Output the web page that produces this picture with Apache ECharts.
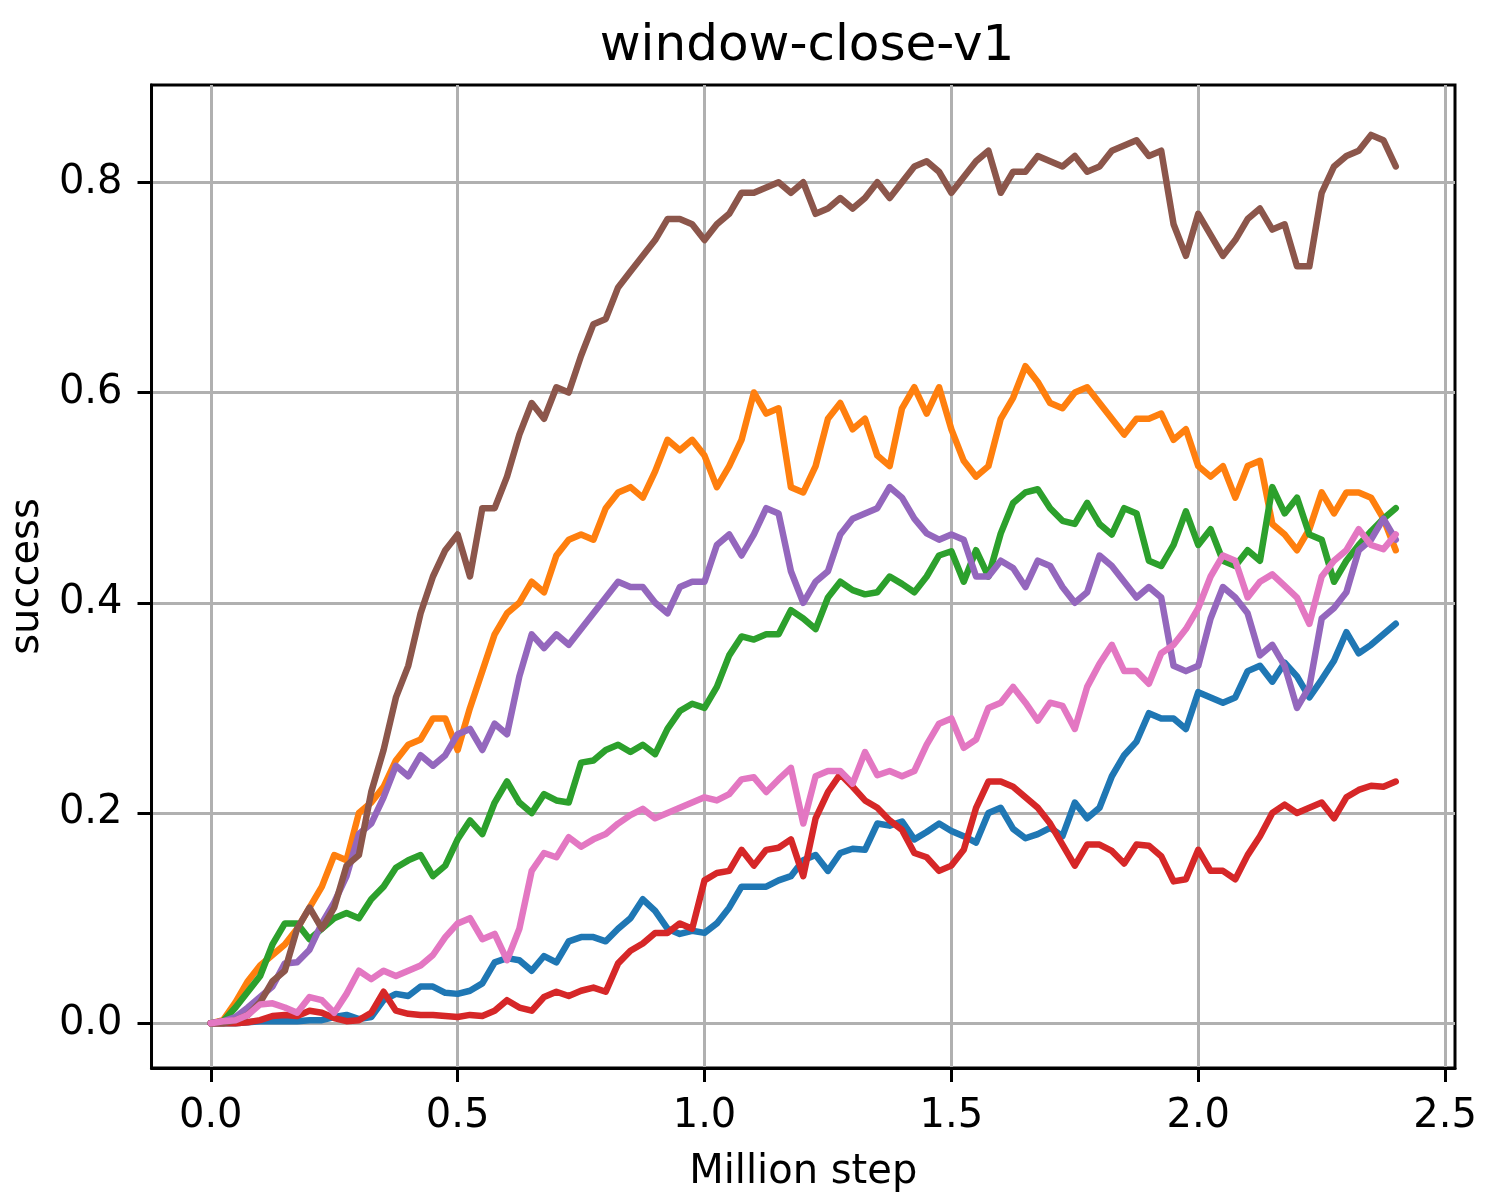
<!DOCTYPE html>
<html><head><meta charset="utf-8">
<script src="https://cdn.jsdelivr.net/npm/echarts@6/dist/echarts.min.js"></script>
<style>html,body{margin:0;padding:0;background:#fff}#c{width:1500px;height:1200px}</style>
</head><body><div id="c"></div>
<script>
const steps = [0,0.025,0.05,0.075,0.1,0.125,0.15,0.175,0.2,0.225,0.25,0.275,0.3,0.325,0.35,0.375,0.4,0.425,0.45,0.475,0.5,0.525,0.55,0.575,0.6,0.625,0.65,0.675,0.7,0.725,0.75,0.775,0.8,0.825,0.85,0.875,0.9,0.925,0.95,0.975,1.0,1.025,1.05,1.075,1.1,1.125,1.15,1.175,1.2,1.225,1.25,1.275,1.3,1.325,1.35,1.375,1.4,1.425,1.45,1.475,1.5,1.525,1.55,1.575,1.6,1.625,1.65,1.675,1.7,1.725,1.75,1.775,1.8,1.825,1.85,1.875,1.9,1.925,1.95,1.975,2.0,2.025,2.05,2.075,2.1,2.125,2.15,2.175,2.2,2.225,2.25,2.275,2.3,2.325,2.35,2.375,2.4];

const blue = [0,0,0,0.001,0.002,0.002,0.002,0.002,0.003,0.003,
 0.006,0.008,0.004,0.006,0.022,0.028,0.026,0.035,0.035,0.029,
 0.028,0.031,0.038,0.058,0.062,0.06,0.05,0.064,0.058,0.078,
 0.082,0.082,0.078,0.09,0.1,0.118,0.107,0.09,0.085,0.088,
 0.086,0.095,0.11,0.13,0.13,0.13,0.136,0.14,0.155,0.16,
 0.145,0.162,0.166,0.165,0.19,0.188,0.192,0.175,0.182,0.19,
 0.183,0.178,0.172,0.2,0.205,0.185,0.176,0.18,0.186,0.178,
 0.21,0.195,0.205,0.235,0.255,0.268,0.295,0.29,0.29,0.28,
 0.315,0.31,0.305,0.31,0.335,0.34,0.325,0.343,0.33,0.31,
 0.327,0.345,0.372,0.352,0.36,0.37,0.38];

const orange = [0,0.003,0.02,0.04,0.055,0.065,0.075,0.09,0.11,0.13,
 0.16,0.155,0.2,0.21,0.225,0.25,0.265,0.27,0.29,0.29,
 0.26,0.3,0.335,0.37,0.39,0.4,0.42,0.41,0.445,0.46,
 0.465,0.46,0.49,0.505,0.51,0.5,0.525,0.555,0.545,0.555,
 0.54,0.51,0.53,0.555,0.6,0.58,0.585,0.51,0.505,0.53,
 0.575,0.59,0.565,0.575,0.54,0.53,0.585,0.605,0.58,0.605,
 0.565,0.535,0.52,0.53,0.575,0.595,0.625,0.61,0.59,0.585,
 0.6,0.605,0.59,0.575,0.56,0.575,0.575,0.58,0.555,0.565,
 0.53,0.52,0.53,0.5,0.53,0.535,0.475,0.465,0.45,0.47,
 0.505,0.485,0.505,0.505,0.5,0.48,0.45];

const green = [0,0.002,0.015,0.03,0.045,0.075,0.095,0.095,0.08,0.09,
 0.1,0.105,0.1,0.118,0.13,0.148,0.155,0.16,0.14,0.15,
 0.175,0.193,0.18,0.21,0.23,0.21,0.2,0.218,0.212,0.21,
 0.248,0.25,0.26,0.265,0.258,0.265,0.256,0.28,0.297,0.304,
 0.3,0.32,0.35,0.368,0.365,0.37,0.37,0.393,0.385,0.375,
 0.405,0.42,0.412,0.408,0.41,0.425,0.418,0.41,0.425,0.445,
 0.449,0.42,0.45,0.425,0.466,0.495,0.505,0.508,0.49,0.478,
 0.475,0.495,0.475,0.465,0.49,0.485,0.44,0.435,0.455,0.487,
 0.455,0.47,0.44,0.435,0.45,0.44,0.51,0.485,0.5,0.465,
 0.46,0.42,0.44,0.455,0.468,0.48,0.49];

const red = [0,0,0,0.001,0.003,0.007,0.008,0.007,0.012,0.01,
 0.005,0.002,0.003,0.01,0.03,0.012,0.009,0.008,0.008,0.007,
 0.006,0.008,0.007,0.012,0.022,0.015,0.012,0.025,0.03,0.026,
 0.031,0.034,0.03,0.057,0.069,0.076,0.086,0.086,0.095,0.09,
 0.136,0.143,0.145,0.165,0.15,0.165,0.167,0.175,0.14,0.195,
 0.22,0.237,0.225,0.212,0.205,0.193,0.184,0.162,0.158,0.145,
 0.15,0.165,0.205,0.23,0.23,0.225,0.215,0.205,0.19,0.17,
 0.15,0.17,0.17,0.164,0.152,0.17,0.169,0.159,0.135,0.137,
 0.165,0.145,0.145,0.137,0.16,0.178,0.2,0.208,0.2,0.205,
 0.21,0.195,0.215,0.222,0.226,0.225,0.23];

const purple = [0,0.002,0.006,0.015,0.025,0.035,0.057,0.058,0.07,0.095,
 0.115,0.14,0.18,0.19,0.215,0.245,0.235,0.255,0.245,0.255,
 0.275,0.28,0.26,0.285,0.275,0.33,0.37,0.357,0.37,0.36,
 0.375,0.39,0.405,0.42,0.415,0.415,0.4,0.39,0.415,0.42,
 0.42,0.455,0.465,0.445,0.465,0.49,0.485,0.43,0.4,0.42,
 0.43,0.465,0.48,0.485,0.49,0.51,0.5,0.48,0.466,0.46,
 0.465,0.46,0.425,0.425,0.44,0.433,0.415,0.44,0.435,0.415,
 0.4,0.41,0.445,0.435,0.42,0.405,0.415,0.405,0.34,0.335,
 0.34,0.385,0.415,0.405,0.39,0.35,0.36,0.34,0.3,0.32,
 0.385,0.395,0.41,0.45,0.46,0.48,0.46];

const brown = [0,0,0.003,0.008,0.02,0.04,0.05,0.09,0.11,0.09,
 0.11,0.15,0.16,0.22,0.26,0.31,0.34,0.39,0.425,0.45,
 0.465,0.425,0.49,0.49,0.52,0.56,0.59,0.575,0.605,0.6,
 0.635,0.665,0.67,0.7,0.715,0.73,0.745,0.765,0.765,0.76,
 0.745,0.76,0.77,0.79,0.79,0.795,0.8,0.79,0.8,0.77,
 0.775,0.785,0.775,0.785,0.8,0.785,0.8,0.815,0.82,0.81,
 0.79,0.805,0.82,0.83,0.79,0.81,0.81,0.825,0.82,0.815,
 0.825,0.81,0.815,0.83,0.835,0.84,0.825,0.83,0.76,0.73,
 0.77,0.75,0.73,0.745,0.765,0.775,0.755,0.76,0.72,0.72,
 0.79,0.815,0.825,0.83,0.845,0.84,0.815];

const pink = [0,0.002,0.003,0.008,0.018,0.019,0.015,0.01,0.025,0.022,
 0.01,0.028,0.05,0.042,0.05,0.045,0.05,0.055,0.065,0.082,
 0.095,0.1,0.08,0.085,0.06,0.09,0.145,0.162,0.158,0.177,
 0.168,0.175,0.18,0.19,0.198,0.204,0.195,0.2,0.205,0.21,
 0.215,0.212,0.218,0.232,0.234,0.22,0.232,0.243,0.19,0.235,
 0.24,0.24,0.228,0.258,0.236,0.24,0.235,0.24,0.265,0.285,
 0.29,0.262,0.27,0.3,0.305,0.32,0.305,0.288,0.305,0.302,
 0.28,0.32,0.342,0.36,0.335,0.335,0.323,0.352,0.36,0.375,
 0.395,0.425,0.445,0.44,0.405,0.42,0.427,0.416,0.405,0.38,
 0.425,0.44,0.45,0.47,0.455,0.451,0.465];

const xTicks = [0, 0.5, 1.0, 1.5, 2.0, 2.5];
const yTicks = [0, 0.2, 0.4, 0.6, 0.8];
const titleText = 'window-close-v1';
const xName = 'Million step';
const yName = 'success';

const seriesList = [
  {name: 'run0', values: blue, color: '#1f77b4'},
  {name: 'run1', values: orange, color: '#ff7f0e'},
  {name: 'run2', values: green, color: '#2ca02c'},
  {name: 'run3', values: red, color: '#d62728'},
  {name: 'run4', values: purple, color: '#9467bd'},
  {name: 'run5', values: brown, color: '#8c564b'},
  {name: 'run6', values: pink, color: '#e377c2'}
];

const font = 'DejaVu Sans';
const chart = echarts.init(document.getElementById('c'), null, {renderer: 'canvas'});
const option = {
  animation: false,
  backgroundColor: '#ffffff',
  title: {
    text: titleText, left: 802, textAlign: 'center', top: 17,
    textStyle: {fontFamily: font, fontSize: 50, fontWeight: 'normal', color: '#000'}
  },
  grid: {left: 150, right: 45, top: 85, bottom: 132, show: true, borderColor: '#000', borderWidth: 3, backgroundColor: 'transparent'},
  xAxis: {
    type: 'value', min: -0.12, max: 2.52,
    name: xName, nameLocation: 'middle', nameGap: 85,
    nameTextStyle: {fontFamily: font, fontSize: 40, color: '#000'},
    axisLine: {show: true, onZero: false, lineStyle: {color: '#000', width: 3}},
    axisTick: {show: true, customValues: xTicks, length: 14, lineStyle: {color: '#000', width: 3}},
    axisLabel: {customValues: xTicks, formatter: v => v.toFixed(1), margin: 29, fontFamily: font, fontSize: 40, color: '#000'},
    splitLine: {show: true, lineStyle: {color: '#b0b0b0', width: 3}}
  },
  yAxis: {
    type: 'value', min: -0.0425, max: 0.8925,
    name: yName, nameLocation: 'middle', nameGap: 96,
    nameTextStyle: {fontFamily: font, fontSize: 40, color: '#000'},
    axisLine: {show: true, onZero: false, lineStyle: {color: '#000', width: 3}},
    axisTick: {show: true, customValues: yTicks, length: 14, lineStyle: {color: '#000', width: 3}},
    axisLabel: {customValues: yTicks, formatter: v => v.toFixed(1), margin: 29, fontFamily: font, fontSize: 40, color: '#000'},
    splitLine: {show: true, lineStyle: {color: '#b0b0b0', width: 3}}
  },
  series: seriesList.map((s, k) => ({
    name: s.name, type: 'line', showSymbol: false, symbol: 'none', z: 2 + k,
    lineStyle: {color: s.color, width: 6.5, join: 'round', cap: 'round'},
    itemStyle: {color: s.color},
    data: steps.map((x, i) => [x, s.values[i]])
  }))
};
chart.setOption(option);
</script>
</body></html>
